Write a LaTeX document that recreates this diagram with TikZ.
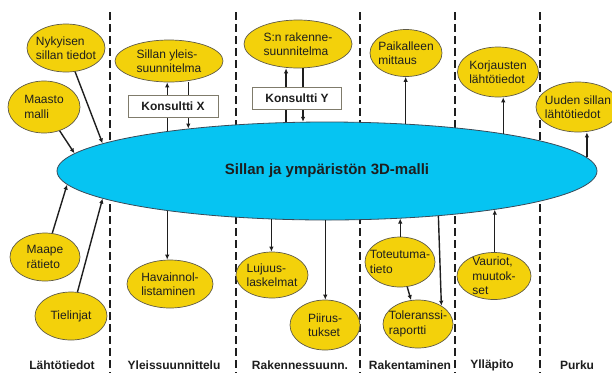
\documentclass[tikz,border=0pt]{standalone}
\usepackage{fontspec}
\setmainfont{Liberation Sans}
\usetikzlibrary{arrows.meta,shapes.geometric}
\definecolor{ink}{HTML}{1E1E1E}
\definecolor{gold}{HTML}{F3D10B}
\definecolor{goldrim}{HTML}{5F5A46}
\definecolor{aqua}{HTML}{06C4F2}
\definecolor{aquarim}{HTML}{3A4A58}
\tikzset{
  flow/.style={-{Latex[length=5pt,width=4.5pt]}, line width=1.4pt, color=ink},
  phase/.style={line width=2.4pt, dash pattern=on 8pt off 4pt, color=ink},
  txt/.style={font=\fontsize{12}{14.5}\selectfont, align=left, text=ink, inner sep=0pt},
  blob/.style 2 args={ellipse, draw=goldrim, fill=gold, line width=0.7pt,
    minimum width=#1, minimum height=#2, inner sep=0pt},
  tag/.style={draw=goldrim!80, fill=white, line width=0.7pt, minimum width=#1,
    minimum height=22, inner sep=0pt, font=\bfseries\fontsize{12}{14}\selectfont, text=ink},
  lane/.style={font=\bfseries\fontsize{12}{14}\selectfont, text=ink},
}
\begin{document}
\begin{tikzpicture}[x=1pt,y=-1pt]
  \useasboundingbox (0,0) rectangle (612,373);
  % phase borders
  \foreach \x in {110,236,360,455,540} \draw[phase] (\x,12) -- (\x,373);

  \node[ellipse, draw=aquarim, fill=aqua, line width=0.8pt, minimum width=540, minimum height=98,
    inner sep=0pt, font=\bfseries\fontsize{15}{18}\selectfont, text=ink] (model) at (327,171)
    {Sillan ja ympäristön 3D-malli};

  % upper row
  \node[blob={78}{48}, label={[txt]center:{Nykyisen\\sillan tiedot}}] (nyk) at (66,48) {};
  \node[blob={72}{52}, label={[txt]center:{Maasto\\malli}}] (maa) at (44,107) {};
  \node[blob={108}{42}, label={[txt]center:{Sillan yleis-\\suunnitelma}}] (yls) at (169,61) {};
  \node[blob={108}{48}, label={[txt]center:{S:n rakenne-\\suunnitelma}}] (srs) at (298,44) {};
  \node[blob={72}{47}, label={[txt]center:{Paikalleen\\mittaus}}] (pai) at (406,53) {};
  \node[blob={81}{50}, label={[txt]center:{Korjausten\\lähtötiedot}}] (kor) at (498,72) {};
  \node[blob={84}{50}, label={[txt]center:{Uuden sillan\\lähtötiedot}}] (uud) at (578,107) {};

  % lower row
  \node[blob={70}{48}, label={[txt]center:{Maape\\rätieto}}] (mpe) at (45,257) {};
  \node[blob={72}{48}, label={[txt]center:{Tielinjat}}] (tie) at (71,316) {};
  \node[blob={86}{48}, label={[txt]center:{Havainnol-\\listaminen}}] (hav) at (170,284) {};
  \node[blob={72}{46}, label={[txt]center:{Lujuus-\\laskelmat}}] (luj) at (272,275) {};
  \node[blob={70}{50}, label={[txt]center:{Piirus-\\tukset}}] (pii) at (325,325) {};
  \node[blob={70}{50}, label={[txt]center:{Toteutuma-\\tieto}}] (tot) at (400,262) {};
  \node[blob={70}{48}, label={[txt]center:{Toleranssi-\\raportti}}] (tol) at (418,324) {};
  \node[blob={74}{47}, label={[txt]center:{Vauriot,\\muutok-\\set}}] (vau) at (494,276) {};

  \draw[flow] (nyk) -- (model.173.1);
  \draw[flow] (maa) -- (model.176);
  \draw[flow] (model.166.5) -- (model.166.5 |- yls.south);
  \draw[flow] (model.163.3 |- yls.south) -- (model.163.3);
  \draw[flow] (model.130.8) -- (model.130.8 |- srs.south);
  \draw[flow] (model.116.2 |- srs.south) -- (model.116.2);
  \draw[flow] (model.31) -- (model.31 |- pai.south);
  \draw[flow] (model.12.4) -- (model.12.4 |- kor.south);
  \draw[flow] (model.3.3) -- (model.3.3 |- uud.south);

  \draw[flow] (mpe) -- (model.183.7);
  \draw[flow] (tie) -- (model.187.3);
  \draw[flow] (model.194.6) -- (model.194.6 |- hav.north);
  \draw[flow] (model.221.1) -- (model.221.1 |- luj.north);
  \draw[flow] (model.268.8) -- (model.268.8 |- pii.north);
  \draw[flow] (model.327.5 |- tot.north) -- (model.327.5);
  \draw[flow] (tot) -- (tol);
  \draw[flow] (model.338.7) -- (tol.38);
  \draw[flow] (model.347 |- vau.north) -- (model.347);

  \node[tag=90] (konx) at (173,106) {Konsultti X};
  \node[tag=89] (kony) at (297,98) {Konsultti Y};

  \foreach \x/\t in {62/Lähtötiedot,174/Yleissuunnittelu,300/Rakennessuunn.,
    410/Rakentaminen,492/Ylläpito,577/Purku}
    \node[lane] (lane-\x) at (\x,365) {\t};
\end{tikzpicture}
\end{document}
